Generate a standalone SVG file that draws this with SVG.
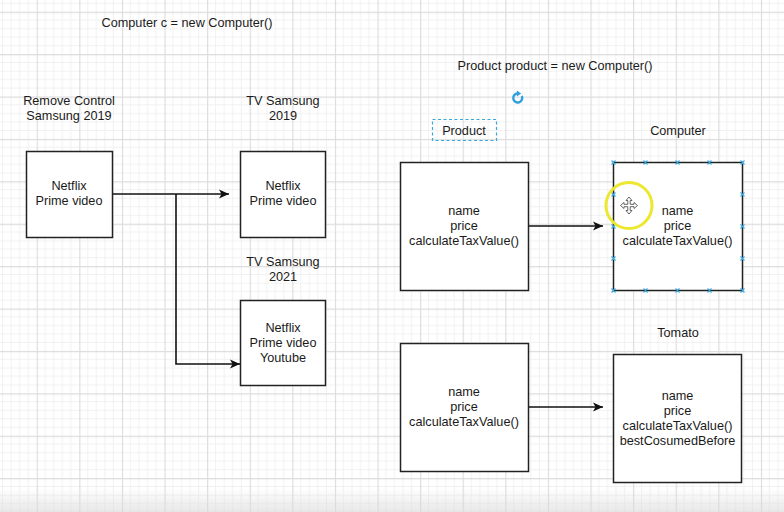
<svg xmlns="http://www.w3.org/2000/svg" width="784" height="512" viewBox="0 0 784 512">
  <style>
    text { font-family: "Liberation Sans", Arial, sans-serif; font-size: 12.7px; fill: #1a1a1a; text-anchor: middle; }
    .box { fill: #ffffff; stroke: #222222; stroke-width: 1.5; }
    .conn { fill: none; stroke: #111111; stroke-width: 1.6; }
    .handle { stroke: #3aa8e0; stroke-width: 1.2; fill: none; }
  </style>
  <defs>
    <pattern id="grid" patternUnits="userSpaceOnUse" x="36.7" y="11.7" width="42.6" height="42.4">
      <path d="M8.52,0 V42.4 M17.04,0 V42.4 M25.56,0 V42.4 M34.08,0 V42.4 M0,8.48 H42.6 M0,16.96 H42.6 M0,25.44 H42.6 M0,33.92 H42.6" stroke="#f1f1f1" stroke-width="1" fill="none"/>
      <path d="M0.5,0 V42.4 M0,0.5 H42.6" stroke="#dcdcdc" stroke-width="1.3" fill="none"/>
    </pattern>
    <linearGradient id="shade" x1="0" y1="0" x2="0" y2="1">
      <stop offset="0" stop-color="#d8d8d8" stop-opacity="0"/>
      <stop offset="1" stop-color="#d8d8d8" stop-opacity="0.6"/>
    </linearGradient>
    <marker id="arrow" markerUnits="userSpaceOnUse" markerWidth="12" markerHeight="12" viewBox="0 0 12 10" refX="11" refY="5" orient="auto">
      <path d="M1,0.5 L11,5 L1,9.5 L3.5,5 Z" fill="#111111"/>
    </marker>
  </defs>

  <rect x="0" y="0" width="784" height="512" fill="#ffffff"/>
  <rect x="0" y="0" width="784" height="512" fill="url(#grid)"/>
  <rect x="0" y="488" width="784" height="24" fill="url(#shade)"/>

  <g id="title-computer">
    <text x="187" y="27">Computer c = new Computer()</text>
  </g>
  <g id="title-product">
    <text x="555" y="70">Product product = new Computer()</text>
  </g>

  <g id="refresh-icon">
    <path d="M521.8,96.1 A4.5,4.5 0 1 1 517.7,93.5" fill="none" stroke="#2f9fe0" stroke-width="2.4"/>
    <path d="M516.8,90.6 L521.2,93.5 L516.8,96.4 Z" fill="#2f9fe0"/>
  </g>

  <g id="connectors">
    <path class="conn" d="M112,194 H229" marker-end="url(#arrow)"/>
    <path class="conn" d="M176,194 V364 H240" marker-end="url(#arrow)"/>
    <path class="conn" d="M528,226 H603" marker-end="url(#arrow)"/>
    <path class="conn" d="M528,407 H603" marker-end="url(#arrow)"/>
  </g>

  <g id="remote">
    <text x="69" y="104.5">Remove Control</text>
    <text x="69" y="119.5">Samsung 2019</text>
    <rect class="box" x="26.5" y="151.5" width="86" height="86"/>
    <text x="69" y="190">Netflix</text>
    <text x="69" y="205">Prime video</text>
  </g>

  <g id="tv2019">
    <text x="283" y="104.5">TV Samsung</text>
    <text x="283" y="119.5">2019</text>
    <rect class="box" x="240.5" y="151.5" width="85" height="86"/>
    <text x="283" y="190">Netflix</text>
    <text x="283" y="205">Prime video</text>
  </g>

  <g id="tv2021">
    <text x="283" y="265.5">TV Samsung</text>
    <text x="283" y="280.5">2021</text>
    <rect class="box" x="240.5" y="300.5" width="85" height="85"/>
    <text x="283" y="332">Netflix</text>
    <text x="283" y="347">Prime video</text>
    <text x="283" y="362">Youtube</text>
  </g>

  <g id="product">
    <rect x="432.5" y="119.5" width="64" height="21" fill="none" stroke="#3aa8e0" stroke-width="1.2" stroke-dasharray="3,2.5"/>
    <text x="464" y="134.5">Product</text>
    <rect class="box" x="400.5" y="162.5" width="128" height="128"/>
    <text x="464" y="215">name</text>
    <text x="464" y="230">price</text>
    <text x="464" y="245">calculateTaxValue()</text>
  </g>

  <g id="computer">
    <text x="678" y="134.5">Computer</text>
    <rect class="box" x="613.5" y="162.5" width="129" height="128"/>
    <text x="677.5" y="215">name</text>
    <text x="677.5" y="230">price</text>
    <text x="677.5" y="245">calculateTaxValue()</text>
    <g class="handle">
      <path d="M611.5,160.5 l4,4 m0,-4 l-4,4 M643.5,160.5 l4,4 m0,-4 l-4,4 M675.5,160.5 l4,4 m0,-4 l-4,4 M707.5,160.5 l4,4 m0,-4 l-4,4 M740.5,160.5 l4,4 m0,-4 l-4,4"/>
      <path d="M611.5,288.5 l4,4 m0,-4 l-4,4 M643.5,288.5 l4,4 m0,-4 l-4,4 M675.5,288.5 l4,4 m0,-4 l-4,4 M707.5,288.5 l4,4 m0,-4 l-4,4 M740.5,288.5 l4,4 m0,-4 l-4,4"/>
      <path d="M611.5,192.5 l4,4 m0,-4 l-4,4 M611.5,224.5 l4,4 m0,-4 l-4,4 M611.5,256.5 l4,4 m0,-4 l-4,4"/>
      <path d="M740.5,192.5 l4,4 m0,-4 l-4,4 M740.5,224.5 l4,4 m0,-4 l-4,4 M740.5,256.5 l4,4 m0,-4 l-4,4"/>
    </g>
    <circle cx="629" cy="205.5" r="23" fill="none" stroke="#ece830" stroke-width="3"/>
    <path d="M629,197 L632,200.5 L630.2,200.5 L630.2,204.3 L634,204.3 L634,202.5 L637.5,205.5 L634,208.5 L634,206.7 L630.2,206.7 L630.2,210.5 L632,210.5 L629,214 L626,210.5 L627.8,210.5 L627.8,206.7 L624,206.7 L624,208.5 L620.5,205.5 L624,202.5 L624,204.3 L627.8,204.3 L627.8,200.5 L626,200.5 Z" fill="#ffffff" stroke="#555555" stroke-width="0.9"/>
  </g>

  <g id="product2">
    <rect class="box" x="400.5" y="343.5" width="128" height="128"/>
    <text x="464" y="396">name</text>
    <text x="464" y="411">price</text>
    <text x="464" y="426">calculateTaxValue()</text>
  </g>

  <g id="tomato">
    <text x="678" y="337">Tomato</text>
    <rect class="box" x="613.5" y="354.5" width="128" height="128"/>
    <text x="677.5" y="399.5">name</text>
    <text x="677.5" y="414.5">price</text>
    <text x="677.5" y="429.5">calculateTaxValue()</text>
    <text x="677.5" y="444.5">bestCosumedBefore</text>
  </g>
</svg>
